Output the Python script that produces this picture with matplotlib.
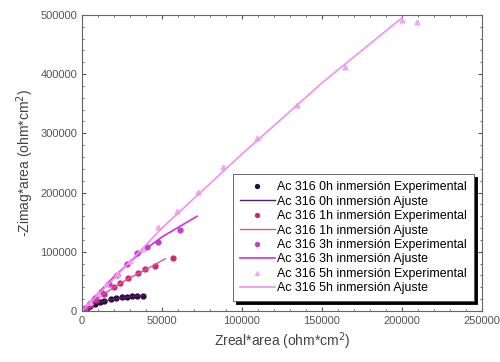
import matplotlib.pyplot as plt
import numpy as np

plt.rcParams['font.family'] = ['Liberation Sans', 'DejaVu Sans']

# experimental points (Zreal*area, -Zimag*area)
x0h = [1000, 3000, 5000, 8000, 11000, 14000, 18000, 21000, 24800, 27900, 31000, 34200, 38300]
y0h = [2000, 5000, 9000, 12000, 15000, 17000, 19500, 21500, 23000, 24000, 24500, 25000, 26000]
x1h = [2000, 5000, 9000, 14000, 20000, 24000, 29000, 35200, 39400, 45600, 57000]
y1h = [4000, 10000, 18000, 28000, 40000, 48000, 55200, 63700, 70400, 76000, 89000]
x3h = [2000, 5000, 8000, 12000, 17000, 22000, 28000, 34200, 40400, 47700, 61250]
y3h = [5000, 13000, 22000, 32000, 45000, 60000, 80000, 97500, 108600, 117000, 136800]
x5h = [5000, 10000, 15000, 22000, 30000, 38000, 47700, 59200, 72700, 88300, 109200, 134200, 164400, 199800, 209200]
y5h = [15000, 30000, 45000, 62000, 85000, 105000, 142000, 168000, 201500, 243800, 291700, 348000, 412700, 491600, 488700]

# fitted curves
fx0h = [0, 2000, 5000, 10000, 20000, 30000, 38000]
fy0h = [0, 4500, 8500, 14000, 20000, 24000, 26500]
fx1h = [0, 10000, 20000, 30000, 40000, 52000]
fy1h = [0, 22000, 40000, 56000, 70000, 88000]
fx3h = [0, 10000, 20000, 35000, 50000, 72000]
fy3h = [0, 30000, 58000, 95000, 125000, 160000]
fx5h = [0, 20000, 50000, 100000, 150000, 200000]
fy5h = [0, 55000, 140000, 265000, 385000, 495000]

fig = plt.figure(figsize=(5, 3.62), dpi=100)
ax = fig.add_axes([0.164, 0.141, 0.8, 0.818])

c0 = '#2a0a40'
c1 = '#d0286e'
c3 = '#c040c8'
c5 = '#f2a8f0'

ax.plot(x0h, y0h, 'o', color=c0, ms=3.5, label='Ac 316 0h inmersión Experimental')
ax.plot(fx0h, fy0h, '-', color='#502070', lw=1, label='Ac 316 0h inmersión Ajuste')
ax.plot(x1h, y1h, 'o', color=c1, ms=3.5, label='Ac 316 1h inmersión Experimental')
ax.plot(fx1h, fy1h, '-', color='#e050a0', lw=1, label='Ac 316 1h inmersión Ajuste')
ax.plot(x3h, y3h, 'o', color=c3, ms=3.5, label='Ac 316 3h inmersión Experimental')
ax.plot(fx3h, fy3h, '-', color='#d030d8', lw=1.2, label='Ac 316 3h inmersión Ajuste')
ax.plot(x5h, y5h, '^', color=c5, ms=3.5, label='Ac 316 5h inmersión Experimental')
ax.plot(fx5h, fy5h, '-', color='#f090f0', lw=1.2, label='Ac 316 5h inmersión Ajuste')

ax.set_xlim(0, 250000)
ax.set_ylim(0, 500000)
ax.set_xticks(np.arange(0, 250001, 50000))
ax.set_yticks(np.arange(0, 500001, 100000))
ax.minorticks_on()
ax.tick_params(which='both', direction='in', top=True, right=True, labelsize=8, colors='#555555')
ax.tick_params(which='major', length=3)
ax.tick_params(which='minor', length=1.5)
for s in ax.spines.values():
    s.set_color('#666666')

ax.set_xlabel('Zreal*area (ohm*cm$^2$)', fontsize=10, color='#444444', labelpad=3)
ax.set_ylabel('-Zimag*area (ohm*cm$^2$)', fontsize=10, color='#444444', labelpad=3)

leg = ax.legend(loc='lower right', bbox_to_anchor=(0.995, 0.012), fontsize=8.9,
                fancybox=False, shadow={'color': 'black', 'alpha': 1}, edgecolor='#555555',
                handlelength=2.8, labelspacing=0.2, borderpad=0.55, handletextpad=0.2,
                markerscale=0.8)
leg.get_frame().set_linewidth(0.6)

fig.savefig('out.png', dpi=100)
